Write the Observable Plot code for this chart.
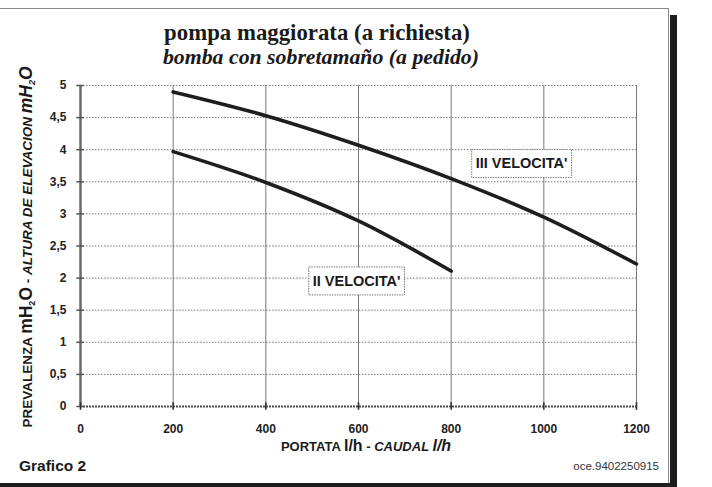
<!DOCTYPE html>
<html>
<head>
<meta charset="utf-8">
<script src="https://cdn.jsdelivr.net/npm/d3@7"></script>
<script src="https://cdn.jsdelivr.net/npm/@observablehq/plot@0.6"></script>
<style>
  html, body { margin: 0; padding: 0; background: #fff; }
  #wrap { position: relative; width: 712px; height: 487px; overflow: hidden; background: #fff; }
  #frameTop { position: absolute; left: 0; top: 8px; width: 669px; height: 0; border-top: 1px solid #8a8a8a; }
  #frameRight { position: absolute; left: 668px; top: 8px; width: 0; height: 476px; border-left: 1px solid #8a8a8a; }
  #shadowR { position: absolute; left: 670px; top: 15px; width: 7px; height: 472px; background: #1e1c1d; }
  #shadowB { position: absolute; left: 0; top: 483px; width: 677px; height: 4px; background: #1e1c1d; }
  #chart { position: absolute; left: 0; top: 0; }
</style>
</head>
<body>
<div id="wrap">
  <div id="frameTop"></div>
  <div id="frameRight"></div>
  <div id="shadowR"></div>
  <div id="shadowB"></div>
  <div id="chart"></div>
</div>
<script>
// ---- data ----
const portata3 = [200, 400, 600, 800, 1000, 1200];
const velocita3 = [4.9, 4.53, 4.07, 3.55, 2.95, 2.22];
const portata2 = [200, 400, 600, 800];
const velocita2 = [3.97, 3.49, 2.89, 2.11];
const seriesNames = ["III VELOCITA'", "II VELOCITA'"];
const labelX = [952, 596];
const labelY = [3.78, 1.95];
const xTicks = [0, 200, 400, 600, 800, 1000, 1200];
const yTicks = [0, 0.5, 1, 1.5, 2, 2.5, 3, 3.5, 4, 4.5, 5];
const titleText = "pompa maggiorata (a richiesta)";
const subtitleText = "bomba con sobretamaño (a pedido)";
const captionLeft = "Grafico 2";
const captionRight = "oce.9402250915";

const rows3 = portata3.map((x, i) => ({x, y: velocita3[i]}));
const rows2 = portata2.map((x, i) => ({x, y: velocita2[i]}));
const labels = seriesNames.map((name, i) => ({name, x: labelX[i], y: labelY[i]}));

const sans = "'Liberation Sans', Arial, sans-serif";
const serif = "'Liberation Serif', 'Times New Roman', serif";

const chart = Plot.plot({
  width: 712,
  height: 487,
  marginLeft: 80,
  marginRight: 76,
  marginTop: 85,
  marginBottom: 81,
  style: {background: "transparent", fontFamily: sans},
  x: {domain: [0, 1200], axis: null},
  y: {domain: [0, 5], axis: null},
  marks: [
    Plot.ruleY(yTicks.filter(d => d > 0), {stroke: "#7a7a7a", strokeWidth: 1, strokeDasharray: "1.5,1.5"}),
    Plot.ruleX(xTicks.filter(d => d > 0), {y1: 0, y2: 5, stroke: "#6a6a6a", strokeWidth: 0.9}),
    Plot.ruleY([0], {stroke: "#4a4a4a", strokeWidth: 2, strokeDasharray: "2,1"}),
    Plot.ruleX([0], {y1: 0, y2: 5, stroke: "#6a6a6a", strokeWidth: 2.5}),
    Plot.ruleY(yTicks, {x1: -8, x2: 8, stroke: "#555", strokeWidth: 1.5}),
    Plot.ruleX(xTicks, {y1: -0.06, y2: 0.06, stroke: "#333", strokeWidth: 1.6}),
    Plot.text(xTicks, {x: d => d, y: 0, dy: 23, text: d => String(d), fontSize: 12, fontWeight: "bold", fill: "#222", fontFamily: sans}),
    Plot.text(yTicks, {x: 0, y: d => d, dx: -14, textAnchor: "end", text: d => String(d).replace(".", ","), fontSize: 12, fontWeight: "bold", fill: "#222", fontFamily: sans}),
    Plot.line(rows3, {x: "x", y: "y", stroke: "#1e1e1e", strokeWidth: 3.6, curve: "monotone-x"}),
    Plot.line(rows2, {x: "x", y: "y", stroke: "#1e1e1e", strokeWidth: 3.6, curve: "monotone-x"}),
    Plot.text(labels, {x: "x", y: "y", text: "name", fontSize: 14.5, fontWeight: "bold", fill: "#1a1a1a", fontFamily: sans})
  ]
});

document.getElementById("chart").appendChild(chart);

const svg = d3.select(chart);

// boxes behind the series labels
svg.selectAll("text").each(function() {
  const t = this.textContent;
  if (seriesNames.includes(t)) {
    const bb = this.getBBox();
    const padX = 4, padY = 6;
    const parent = this.parentNode;
    const rect = document.createElementNS("http://www.w3.org/2000/svg", "rect");
    rect.setAttribute("x", bb.x - padX);
    rect.setAttribute("y", bb.y - padY);
    rect.setAttribute("width", bb.width + 2 * padX);
    rect.setAttribute("height", bb.height + 2 * padY);
    rect.setAttribute("fill", "#fff");
    rect.setAttribute("stroke", "#777");
    rect.setAttribute("stroke-width", "1");
    rect.setAttribute("stroke-dasharray", "1.5,1");
    const tr = this.getAttribute("transform");
    if (tr) rect.setAttribute("transform", tr);
    parent.insertBefore(rect, this);
  }
});

// titles
svg.append("text").attr("x", 317).attr("y", 40).attr("text-anchor", "middle")
  .attr("font-family", serif).attr("font-weight", "bold").attr("font-size", 22.8).attr("fill", "#1a1a1a")
  .text(titleText);
svg.append("text").attr("x", 321).attr("y", 64).attr("text-anchor", "middle")
  .attr("font-family", serif).attr("font-style", "italic").attr("font-weight", "bold").attr("font-size", 21.8).attr("fill", "#1a1a1a")
  .text(subtitleText);

// y axis title (rotated, with subscripts)
const yt = svg.append("text")
  .attr("transform", "translate(32,247) rotate(-90)")
  .attr("text-anchor", "middle")
  .attr("font-family", sans).attr("font-weight", "bold").attr("fill", "#1a1a1a");
yt.append("tspan").attr("font-size", 13.5).text("PREVALENZA ");
yt.append("tspan").attr("font-size", 17.5).text("mH");
yt.append("tspan").attr("font-size", 9).attr("dy", 3).text("2");
yt.append("tspan").attr("font-size", 17.5).attr("dy", -3).text("O");
yt.append("tspan").attr("font-size", 13.5).text(" - ");
yt.append("tspan").attr("font-size", 13.5).attr("font-style", "italic").text("ALTURA DE ELEVACION ");
yt.append("tspan").attr("font-size", 17.5).attr("font-style", "italic").text("mH");
yt.append("tspan").attr("font-size", 9).attr("font-style", "italic").attr("dy", 3).text("2");
yt.append("tspan").attr("font-size", 17.5).attr("font-style", "italic").attr("dy", -3).text("O");

// x axis title
const xt = svg.append("text").attr("x", 366).attr("y", 451).attr("text-anchor", "middle")
  .attr("font-family", sans).attr("font-weight", "bold").attr("fill", "#1a1a1a");
xt.append("tspan").attr("font-size", 13).text("PORTATA ");
xt.append("tspan").attr("font-size", 16).text("l/h");
xt.append("tspan").attr("font-size", 13).text(" - ");
xt.append("tspan").attr("font-size", 13).attr("font-style", "italic").text("CAUDAL ");
xt.append("tspan").attr("font-size", 16).attr("font-style", "italic").text("l/h");

// captions
svg.append("text").attr("x", 19).attr("y", 471).attr("text-anchor", "start")
  .attr("font-family", sans).attr("font-weight", "bold").attr("font-size", 15.5).attr("fill", "#1a1a1a")
  .text(captionLeft);
svg.append("text").attr("x", 659).attr("y", 470).attr("text-anchor", "end")
  .attr("font-family", sans).attr("font-size", 11.5).attr("fill", "#333")
  .text(captionRight);
</script>
</body>
</html>
